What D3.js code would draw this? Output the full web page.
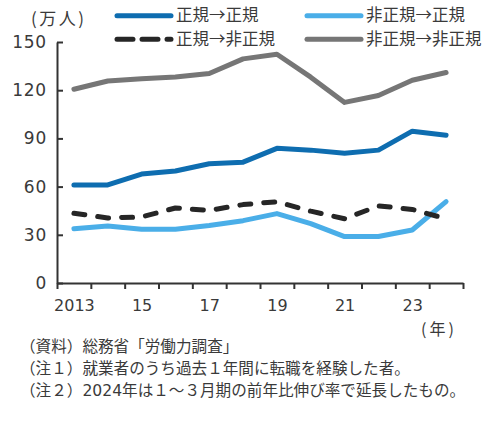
<!DOCTYPE html>
<html>
<head>
<meta charset="utf-8">
<script src="https://cdn.jsdelivr.net/npm/d3@7"></script>
<style>
  body { margin: 0; background: #fff; }
  svg { display: block; }
</style>
</head>
<body>
<div id="chart"></div>
<script>
var width = 498;
var height = 424;

// data (万人)
var years = [2013, 2014, 2015, 2016, 2017, 2018, 2019, 2020, 2021, 2022, 2023, 2024];
var regToReg = [61, 61, 67.8, 69.7, 74.2, 75.2, 83.8, 82.7, 80.8, 82.7, 94.5, 92];
var nonToReg = [33.7, 35.5, 33.4, 33.4, 35.8, 38.8, 43.2, 37, 28.9, 28.9, 33, 50.6];
var regToNon = [43.4, 40.5, 41.1, 46.7, 45.2, 48.8, 50.6, 44.7, 40, 48, 45.8, 40];
var nonToNon = [120.6, 125.7, 127.1, 128.2, 130.4, 139.5, 142.4, 128.1, 112.4, 116.7, 126.2, 131];

var yTicks = [0, 30, 60, 90, 120, 150];
var xLabelYears = [2013, 2015, 2017, 2019, 2021, 2023];
var xLabels = ["2013", "15", "17", "19", "21", "23"];

var seriesNames = ["正規→正規", "非正規→正規", "正規→非正規", "非正規→非正規"];
var notes = [
  "（資料）総務省「労働力調査」",
  "（注１）就業者のうち過去１年間に転職を経験した者。",
  "（注２）2024年は１～３月期の前年比伸び率で延長したもの。"
];

var numFont = "'DejaVu Sans', Verdana, sans-serif";
var jpFont = "'Noto Sans CJK JP', sans-serif";
var textColor = "#3a3a3a";

var svg = d3.select("#chart")
  .append("svg")
  .attr("width", width)
  .attr("height", height);

svg.append("rect")
  .attr("width", width)
  .attr("height", height)
  .style("fill", "white");

var x = d3.scaleLinear()
  .domain([years[0] - 0.5, years[years.length - 1] + 0.5])
  .range([57, 463]);

var y = d3.scaleLinear()
  .domain([0, 150])
  .range([283, 42]);

// x axis: ticks on the year boundaries, labels in the middle
var boundaries = d3.range(years.length + 1).map(function(i) { return years[0] - 0.5 + i; });

svg.append("g")
  .attr("transform", "translate(0," + y(0) + ")")
  .call(d3.axisBottom(x).tickValues(boundaries).tickFormat("").tickSizeInner(6).tickSizeOuter(0));

var xLab = svg.append("g")
  .attr("class", "xlab")
  .attr("transform", "translate(0," + y(0) + ")")
  .call(d3.axisBottom(x).tickValues(xLabelYears)
    .tickFormat(function(d, i) { return xLabels[i]; })
    .tickSize(0).tickPadding(17));
xLab.select(".domain").remove();

var yAxis = svg.append("g")
  .attr("class", "ylab")
  .attr("transform", "translate(" + x.range()[0] + ",0)")
  .call(d3.axisLeft(y).tickValues(yTicks).tickSizeInner(-6).tickSizeOuter(0).tickPadding(10));

svg.selectAll(".domain, .tick line")
  .attr("stroke", "#333")
  .attr("stroke-width", 2);

svg.selectAll(".tick text")
  .attr("font-family", numFont)
  .attr("font-size", "16px")
  .style("fill", textColor);

yAxis.selectAll(".tick text")
  .attr("font-size", "17px")
  .attr("letter-spacing", "0.8px");

// unit labels
svg.append("text")
  .attr("x", 31)
  .attr("y", 19)
  .attr("dy", "0.35em")
  .attr("font-family", jpFont)
  .attr("font-size", "17px")
  .attr("letter-spacing", "2.5px")
  .style("fill", textColor)
  .text("(万人)");

svg.append("text")
  .attr("x", 421)
  .attr("y", 329)
  .attr("dy", "0.35em")
  .attr("font-family", jpFont)
  .attr("font-size", "16px")
  .attr("letter-spacing", "3px")
  .style("fill", textColor)
  .text("(年)");

// lines
var series = [
  { name: seriesNames[3], values: nonToNon, color: "#767676", dash: null },
  { name: seriesNames[0], values: regToReg, color: "#0e6db0", dash: null },
  { name: seriesNames[1], values: nonToReg, color: "#4aaee8", dash: null },
  { name: seriesNames[2], values: regToNon, color: "#262626", dash: "11,13" }
];

var line = d3.line()
  .x(function(d, i) { return x(years[i]); })
  .y(function(d) { return y(d); });

series.forEach(function(s) {
  svg.append("path")
    .datum(s.values)
    .attr("d", line)
    .attr("fill", "none")
    .attr("stroke", s.color)
    .attr("stroke-width", 5)
    .attr("stroke-linejoin", "round")
    .attr("stroke-linecap", "round")
    .attr("stroke-dasharray", s.dash);
});

// legend
var legendPos = [
  { s: series[1], lx: 117, ly: 15.7 },
  { s: series[2], lx: 307, ly: 15.7 },
  { s: series[3], lx: 117, ly: 39.3 },
  { s: series[0], lx: 307, ly: 39.3 }
];

legendPos.forEach(function(p) {
  svg.append("line")
    .attr("x1", p.lx)
    .attr("x2", p.lx + 54)
    .attr("y1", p.ly)
    .attr("y2", p.ly)
    .attr("stroke", p.s.color)
    .attr("stroke-width", 5)
    .attr("stroke-linecap", "round")
    .attr("stroke-dasharray", p.s.dash ? "16,9" : null);

  svg.append("text")
    .attr("x", p.lx + 59)
    .attr("y", p.ly)
    .attr("dy", "0.35em")
    .attr("font-family", jpFont)
    .attr("font-size", "16.5px")
    .style("fill", textColor)
    .text(p.s.name);
});

// notes
svg.selectAll(".note")
  .data(notes)
  .enter()
  .append("text")
  .attr("class", "note")
  .attr("x", 20)
  .attr("y", function(d, i) { return 346.7 + i * 21.7; })
  .attr("dy", "0.35em")
  .attr("font-family", numFont + ", " + jpFont)
  .attr("font-size", "15.6px")
  .style("fill", textColor)
  .text(function(d) { return d; });
</script>
</body>
</html>
